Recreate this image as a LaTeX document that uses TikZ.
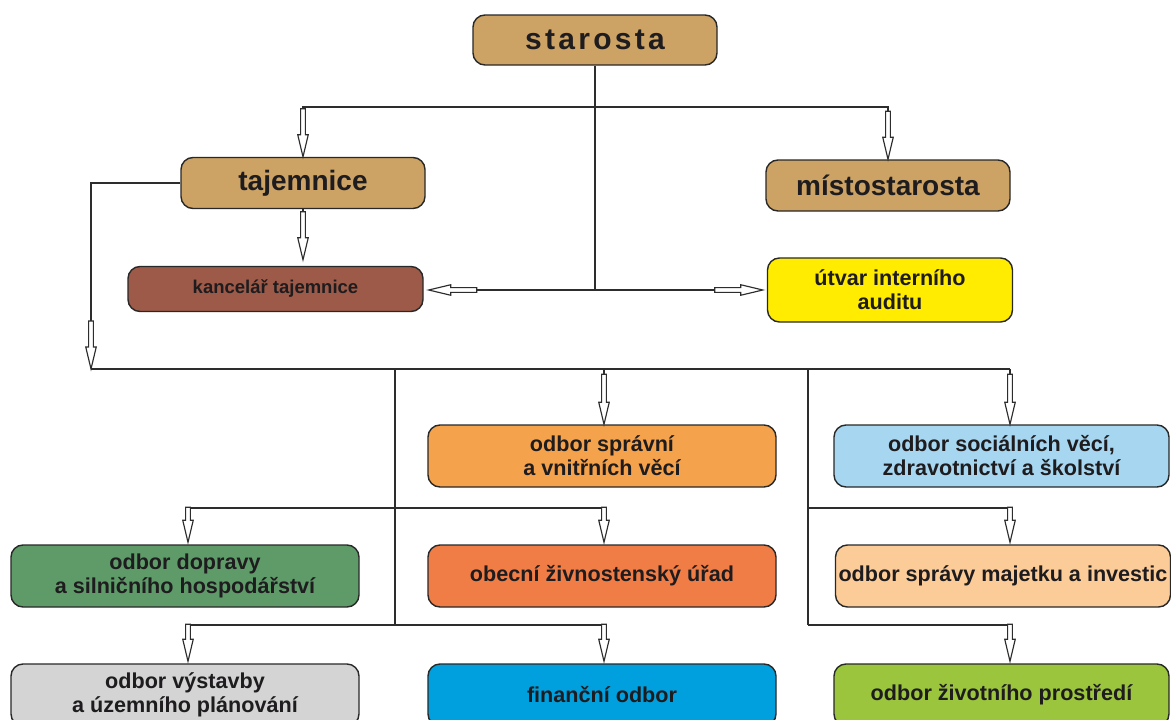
\documentclass[tikz,border=0pt]{standalone}
\usepackage{fontspec}
\setmainfont{Liberation Sans}
\usetikzlibrary{arrows.meta}
\pgfdeclarearrow{
  name = Hollow,
  defaults = {length = 48pt, width = 10.5pt},
  setup code = {
    \pgfarrowssettipend{0pt}
    \pgfarrowssetlineend{-.9\pgfarrowlength}
    \pgfarrowssetbackend{-\pgfarrowlength}
    \pgfarrowshullpoint{0pt}{0pt}
    \pgfarrowsupperhullpoint{-\pgfarrowlength}{.5\pgfarrowwidth}
    \pgfarrowssavethe\pgfarrowlength
    \pgfarrowssavethe\pgfarrowwidth
  },
  drawing code = {
    \pgfsetlinewidth{1.15pt}
    \pgfpathmoveto{\pgfqpoint{0pt}{0pt}}
    \pgfpathlineto{\pgfqpoint{-22pt}{.5\pgfarrowwidth}}
    \pgfpathlineto{\pgfqpoint{-22pt}{2.4pt}}
    \pgfpathlineto{\pgfqpoint{-\pgfarrowlength}{2.4pt}}
    \pgfpathlineto{\pgfqpoint{-\pgfarrowlength}{-2.4pt}}
    \pgfpathlineto{\pgfqpoint{-22pt}{-2.4pt}}
    \pgfpathlineto{\pgfqpoint{-22pt}{-.5\pgfarrowwidth}}
    \pgfpathclose
    \pgfsetfillcolor{white}
    \pgfusepathqfillstroke
  },
  parameters = {\the\pgfarrowlength,\the\pgfarrowwidth},
}
\definecolor{tan}{RGB}{204,163,100}
\definecolor{kanc}{RGB}{158,90,72}
\definecolor{yel}{RGB}{255,236,0}
\definecolor{sprav}{RGB}{245,162,76}
\definecolor{soc}{RGB}{166,214,240}
\definecolor{dopr}{RGB}{95,155,105}
\definecolor{zivn}{RGB}{240,125,70}
\definecolor{maj}{RGB}{252,204,152}
\definecolor{vyst}{RGB}{212,212,212}
\definecolor{fin}{RGB}{0,160,222}
\definecolor{zivp}{RGB}{155,197,60}
\definecolor{boxline}{RGB}{40,40,40}
\definecolor{lnc}{RGB}{45,45,45}
\definecolor{txt}{RGB}{30,28,30}
\tikzset{
  box/.style={draw=boxline, line width=1.4pt, rounded corners=12pt, inner sep=0pt,
    align=center, text=txt, font=\bfseries\fontsize{21.6}{24}\selectfont},
  wide/.style={minimum width=348, minimum height=62},
  rbox/.style={minimum width=335, minimum height=62},
  conn/.style={draw=lnc, line width=1.5pt},
  harr/.style={conn, -{Hollow[length=#1]}},
  harr/.default=48pt,
}
\begin{document}
\begin{tikzpicture}[x=1pt,y=-1pt]
\useasboundingbox (0,0) rectangle (1171,720);
\clip (0,0) rectangle (1171,720);
% top level
\node[box, fill=tan, minimum width=244, minimum height=50,
  font=\bfseries\fontsize{30}{32}\selectfont\addfontfeature{LetterSpace=11}] (staro) at (595,40) {starosta};
\node[box, fill=tan, minimum width=244, minimum height=51,
  font=\bfseries\fontsize{28}{30}\selectfont] (taj) at (303,183) {tajemnice};
\node[box, fill=tan, minimum width=244, minimum height=51,
  font=\bfseries\fontsize{28}{30}\selectfont] (mist) at (888,185.5) {místostarosta};
\node[box, fill=kanc, minimum width=295, minimum height=45,
  font=\bfseries\fontsize{18.5}{20}\selectfont] (kanc) at (275.5,289) {kancelář tajemnice};
\node[box, fill=yel, minimum width=245, minimum height=64] (utv) at (890,290) {útvar interního\\auditu};
% departments
\node[box, wide, fill=sprav] (sprav) at (602,456) {odbor správní\\a vnitřních věcí};
\node[box, rbox, fill=soc] (soc) at (1001.5,456) {odbor sociálních věcí,\\zdravotnictví a školství};
\node[box, wide, fill=dopr] (dopr) at (185,576) {odbor dopravy\\a silničního hospodářství};
\node[box, wide, fill=zivn] (zivn) at (602,576) {obecní živnostenský úřad};
\node[box, rbox, fill=maj] (maj) at (1003,576) {odbor správy majetku a investic};
\node[box, wide, fill=vyst] (vyst) at (185,695) {odbor výstavby\\a územního plánování};
\node[box, wide, fill=fin] (fin) at (602,695) {finanční odbor};
\node[box, rbox, fill=zivp] (zivp) at (1001.5,695) {odbor životního prostředí};
% coordinates
\coordinate (top) at (595,107);
\coordinate (hub) at (595,290);
\coordinate (bL) at (91,369);
\coordinate (bR) at (1010,369);
\coordinate (sL) at (395,369);
\coordinate (sR) at (808,369);
\coordinate (l1) at (395,508);
\coordinate (l2) at (395,625);
\coordinate (r1) at (808,508);
\coordinate (r2) at (808,625);
\coordinate (xL) at (188,0);
\coordinate (xM) at (604,0);
\coordinate (xR) at (1010,0);
% starosta connectors
\draw[conn] (staro.south) -- (hub);
\draw[harr] (top) -| (taj.north);
\draw[harr] (top) -| (mist.north);
\draw[harr, shorten >=5pt] (hub) -- (hub -| kanc.east);
\draw[harr, shorten >=4pt] (hub) -- (hub -| utv.west);
\draw[harr, shorten >=6pt] (taj.south) -- (taj.south |- kanc.north);
% tajemnice to departments
\draw[harr] (taj.west) -| (bL);
\draw[conn] (bL) -- (bR);
\draw[harr=50pt] (bR) -- (bR |- soc.north);
\draw[harr=50pt] (xM |- bL) -- (xM |- sprav.north);
% left stem
\draw[conn] (sL) -- (l2);
\draw[harr=35pt, shorten >=2pt] (l1) -| (xL |- dopr.north);
\draw[harr=35pt, shorten >=2pt] (l1) -| (xM |- zivn.north);
\draw[harr=37pt, shorten >=2pt] (l2) -| (xL |- vyst.north);
\draw[harr=37pt, shorten >=2pt] (l2) -| (xM |- fin.north);
% right stem
\draw[conn] (sR) -- (r2);
\draw[harr=35pt, shorten >=2pt] (r1) -| (xR |- maj.north);
\draw[harr=37pt, shorten >=2pt] (r2) -| (xR |- zivp.north);
\end{tikzpicture}
\end{document}
